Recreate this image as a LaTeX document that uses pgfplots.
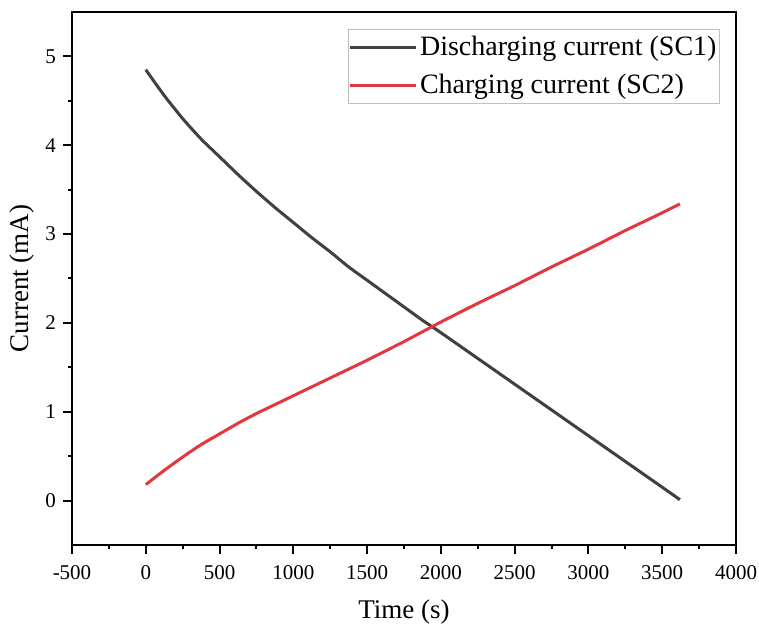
\documentclass[border=0pt]{standalone}
\usepackage{pgfplots}
\pgfplotsset{compat=1.18}
\usepackage{fontspec}
\setmainfont{Liberation Serif}
\usetikzlibrary{calc}
\definecolor{dgray}{RGB}{64,64,64}
\definecolor{cred}{RGB}{224,56,60}
\begin{document}
\begin{tikzpicture}
\begin{axis}[
  scale only axis,
  width=332pt, height=266.5pt,
  xmin=-500, xmax=4000, ymin=-0.5, ymax=5.5,
  xtick={-500,0,...,4000}, ytick={0,1,...,5},
  minor x tick num=1, minor y tick num=1,
  tick align=outside,
  xtick pos=bottom, ytick pos=left,
  major tick length=4.5pt, minor tick length=2.2pt,
  every tick/.style={line width=1pt, black},
  axis line style={line width=1pt},
  /pgf/number format/assume math mode=true,
  /pgf/number format/set thousands separator={},
  ticklabel style={font=\fontsize{10.5}{12}\selectfont},
  xticklabel style={yshift=-2pt},
  xlabel={Time (s)}, ylabel={Current (mA)},
  label style={font=\fontsize{13.5}{16}\selectfont},
  xlabel style={at={(axis description cs:0.5,-0.1265)},anchor=center},
  ylabel style={at={(axis description cs:-0.0755,0.5)},anchor=center},
  legend style={at={(axis description cs:0.976,0.968)},anchor=north east,
    draw=gray!50, line width=0.5pt, font=\fontsize{14}{17}\selectfont,
    inner xsep=0pt, inner ysep=1.5pt, row sep=3.5pt, cells={anchor=west},
    nodes={inner xsep=1.5pt}},
  legend image code/.code={\draw[#1] (0cm,0cm) -- (33pt,0cm);},
  clip=false,
]
\addplot[dgray, line width=1.5pt, smooth, tension=0.4] coordinates {
(0,4.85) (125,4.56) (250,4.30) (375,4.07) (500,3.87) (625,3.67) (750,3.48)
(875,3.30) (1000,3.13) (1125,2.96) (1250,2.80) (1375,2.63) (1500,2.48)
(1625,2.33) (1750,2.18) (1875,2.03) (2000,1.89) (2250,1.60) (2500,1.31)
(2750,1.02) (3000,0.73) (3250,0.44) (3500,0.15) (3620,0.01)};
\addlegendentry{Discharging current (SC1)}
\addplot[cred, line width=1.5pt, smooth, tension=0.4] coordinates {
(0,0.18) (125,0.34) (250,0.49) (375,0.63) (500,0.75) (625,0.87) (750,0.98)
(875,1.08) (1000,1.18) (1250,1.38) (1500,1.58) (1750,1.79) (2000,2.01)
(2250,2.22) (2500,2.42) (2750,2.63) (3000,2.83) (3250,3.04) (3500,3.24) (3620,3.34)};
\addlegendentry{Charging current (SC2)}
\end{axis}
\pgfresetboundingbox
\path[use as bounding box] ($(current axis.south west)+(-36pt,-41pt)$) rectangle ($(current axis.north east)+(11.5pt,6pt)$);
\end{tikzpicture}
\end{document}
